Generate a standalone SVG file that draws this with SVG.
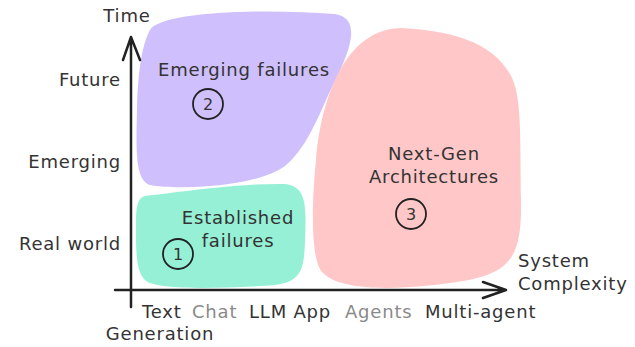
<svg xmlns="http://www.w3.org/2000/svg" width="635" height="347" viewBox="0 0 635 347">
<style>
text{font-family:"DejaVu Sans","Noto Sans",sans-serif;font-size:18px;letter-spacing:0.8px;fill:#333}
.g{fill:#8a8a8a}
.ax{stroke:#222;stroke-width:2.5;fill:none;stroke-linecap:round;stroke-linejoin:round}
.num{stroke:#222;stroke-width:1.8;fill:none}
.n{font-size:16px;letter-spacing:0;text-anchor:middle}
</style>
<rect width="635" height="347" fill="#fff"/>
<g id="region-emerging">
<path d="M150,30 C160,12 260,8 335,14 C360,18 352,45 338,75 C320,110 310,145 285,166 C255,188 175,190 150,185 C135,180 136,150 137,110 C138,70 142,45 150,30 Z" fill="#cfc0fd"/>
<text x="244" y="76" text-anchor="middle">Emerging failures</text>
<circle class="num" cx="208" cy="104" r="15"/>
<text class="n" x="208" y="110">2</text>
</g>
<g id="region-established">
<path d="M145,196 C180,192 240,183 285,184 C308,186 306,210 305,240 C304,275 300,285 260,286 C220,288 170,290 150,283 C135,278 136,250 136,225 C136,205 138,198 145,196 Z" fill="#96f0d6"/>
<text x="238" y="224" text-anchor="middle">Established</text>
<text x="238" y="247" text-anchor="middle">failures</text>
<circle class="num" cx="178" cy="254" r="15"/>
<text class="n" x="178" y="260">1</text>
</g>
<g id="region-nextgen">
<path d="M400,28 C450,30 495,42 512,78 C522,100 520,140 521,200 C522,260 510,275 450,283 C400,290 340,292 322,272 C310,258 312,200 316,160 C320,110 340,30 400,28 Z" fill="#ffc7c7"/>
<text x="434" y="160" text-anchor="middle">Next-Gen</text>
<text x="434" y="183" text-anchor="middle">Architectures</text>
<circle class="num" cx="411" cy="214" r="15"/>
<text class="n" x="411" y="220">3</text>
</g>
<g id="axes">
<path class="ax" d="M131,307 L131,37 M123,60 L131,37 L140,60"/>
<path class="ax" d="M115,290 L506,290 M483,282 L506,290 L483,298"/>
</g>
<g id="labels">
<text x="127" y="22" text-anchor="middle">Time</text>
<text x="121" y="86" text-anchor="end">Future</text>
<text x="121" y="168" text-anchor="end">Emerging</text>
<text x="121" y="250" text-anchor="end">Real world</text>
<text x="518" y="267">System</text>
<text x="518" y="290">Complexity</text>
<text x="142" y="318">Text</text>
<text x="160" y="340" text-anchor="middle">Generation</text>
<text class="g" x="192" y="318">Chat</text>
<text x="249" y="318">LLM App</text>
<text class="g" x="345" y="318">Agents</text>
<text x="425" y="318">Multi-agent</text>
</g>
</svg>
